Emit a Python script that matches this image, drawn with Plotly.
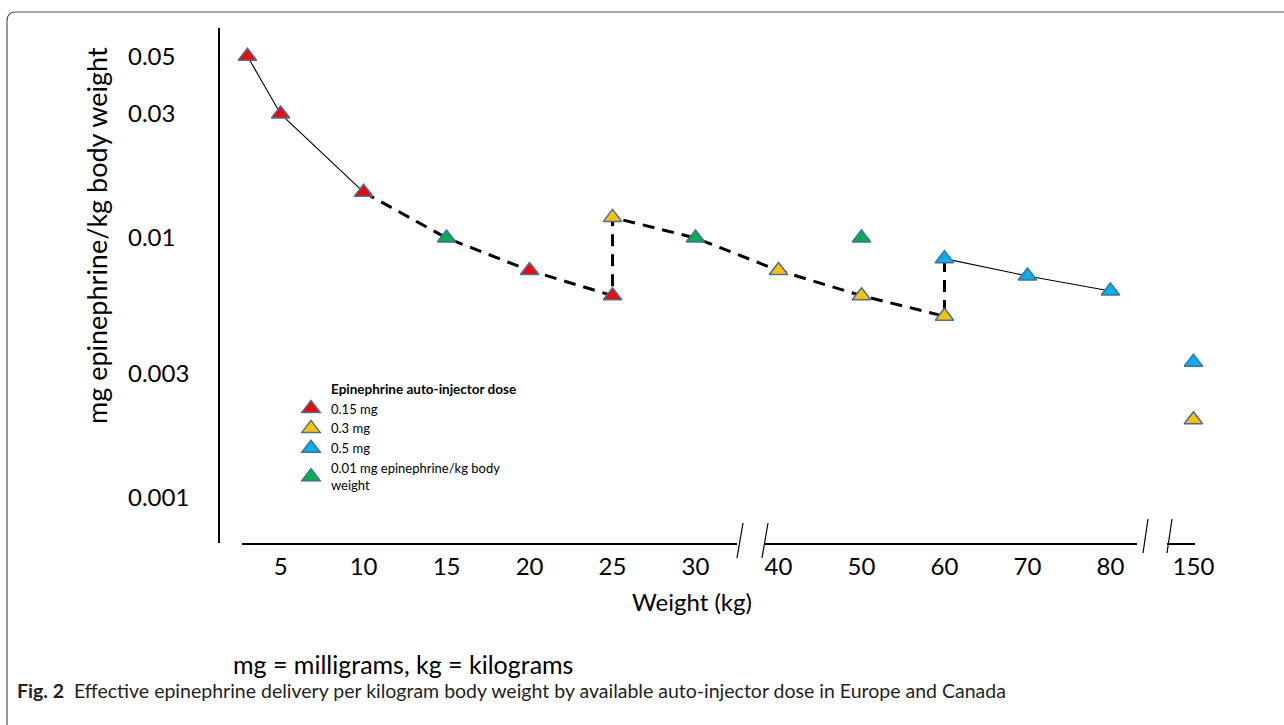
import math
import plotly.graph_objects as go

# ---------------- data ----------------
W_015 = [3, 5, 10, 20, 25]                      # 0.15 mg auto-injector
V_015 = [0.05, 0.03, 0.015, 0.0075, 0.006]
W_03 = [25, 40, 50, 60, 150]                    # 0.3 mg auto-injector
V_03 = [0.012, 0.0075, 0.006, 0.005, 0.002]
W_05 = [60, 70, 80, 150]                        # 0.5 mg auto-injector
V_05 = [0.00833, 0.00714, 0.00625, 0.00333]
W_REF = [15, 30, 50]                            # 0.01 mg/kg reference dose
V_REF = [0.01, 0.01, 0.01]
REF_LEVEL = 0.01

X_TICKS = [5, 10, 15, 20, 25, 30, 40, 50, 60, 70, 80, 150]
Y_TICKS = [0.05, 0.03, 0.01, 0.003, 0.001]
Y_TICK_TEXT = ["0.05", "0.03", "0.01", "0.003", "0.001"]
SERIES_NAMES = ["0.15 mg", "0.3 mg", "0.5 mg",
                "0.01 mg epinephrine/kg body<br>weight"]
LEGEND_TITLE = "Epinephrine auto-injector dose"
Y_TITLE = "mg epinephrine/kg body weight"
X_TITLE = "Weight (kg)"
NOTE = "mg = milligrams, kg = kilograms"
CAPTION = ("<b>Fig. 2</b>  Effective epinephrine delivery per kilogram body weight "
           "by available auto-injector dose in Europe and Canada")

# ---------------- styles ----------------
COLORS = ["#FF0000", "#FFC000", "#00B0F0", "#00B050"]
OUTLINE = "#41719C"
FONT = "Lato"

# figure geometry (pixels)
W, H = 1284, 725
ML, MR, MT, MB = 110, 50, 28, 180
PW, PH = W - ML - MR, H - MT - MB


def px_x(p):  # pixel -> paper x
    return (p - ML) / PW


def px_y(p):  # pixel -> paper y
    return (H - MB - p) / PH


# broken weight axis: 5 kg per tick up to 30, 10 kg per tick to 80, then break to 150
def xpos(w):
    if w <= 30:
        return w / 5
    if w <= 80:
        return 3 + w / 10
    return 12 + (w - 150) / 10


series = [(W_015, V_015), (W_03, V_03), (W_05, V_05), (W_REF, V_REF)]

# connecting paths built from the series points
solid_a = [(W_015[i], V_015[i]) for i in range(3)]
dashed = [(W_015[2], V_015[2]), (W_REF[0], V_REF[0]), (W_015[3], V_015[3]),
          (W_015[4], V_015[4]), (W_03[0], V_03[0]), (W_REF[1], V_REF[1]),
          (W_03[1], V_03[1]), (W_03[2], V_03[2]), (W_03[3], V_03[3]),
          (W_05[0], V_05[0])]
solid_b = [(W_05[i], V_05[i]) for i in range(3)]

fig = go.Figure()

for path, dash, width in [(solid_a, "solid", 1.1), (dashed, "12px,8px", 3),
                          (solid_b, "solid", 1.1)]:
    fig.add_trace(go.Scatter(
        x=[xpos(w) for w, _ in path], y=[v for _, v in path],
        mode="lines", line=dict(color="black", width=width, dash=dash),
        showlegend=False, hoverinfo="skip"))

for (ws, vs), name, col in zip(series, SERIES_NAMES, COLORS):
    fig.add_trace(go.Scatter(
        x=[xpos(w) for w in ws], y=vs, mode="markers", name=name,
        marker=dict(symbol="triangle-up", size=16, color=col,
                    line=dict(color=OUTLINE, width=1.5)),
        cliponaxis=False))

shapes = []
# outer rounded frame
fx0, fy0, r = 7, 12, 9
shapes.append(dict(
    type="path", xref="paper", yref="paper",
    path=(f"M {px_x(1300)},{px_y(fy0)} L {px_x(fx0 + r)},{px_y(fy0)} "
          f"Q {px_x(fx0)},{px_y(fy0)} {px_x(fx0)},{px_y(fy0 + r)} "
          f"L {px_x(fx0)},{px_y(740)}"),
    line=dict(color="#555555", width=1.2)))
# vertical axis line
shapes.append(dict(type="line", xref="paper", yref="paper",
                   x0=px_x(219), x1=px_x(219), y0=px_y(28), y1=px_y(543),
                   line=dict(color="black", width=2)))
# broken horizontal axis segments
for a, b in [(242, 737), (765, 1137), (1167, 1195)]:
    shapes.append(dict(type="line", xref="paper", yref="paper",
                       x0=px_x(a), x1=px_x(b), y0=px_y(544), y1=px_y(544),
                       line=dict(color="black", width=2)))
# break marks
for xb, xt, yb, yt in [(737, 743, 558, 523), (762, 768, 558, 523),
                       (1143, 1148, 553, 519), (1167, 1172, 553, 519)]:
    shapes.append(dict(type="line", xref="paper", yref="paper",
                       x0=px_x(xb), x1=px_x(xt), y0=px_y(yb), y1=px_y(yt),
                       line=dict(color="black", width=1.2)))
# 0.01 mg/kg reference line
shapes.append(dict(type="line", xref="paper", yref="y", layer="below",
                   x0=px_x(225), x1=px_x(1178),
                   y0=math.log10(REF_LEVEL), y1=math.log10(REF_LEVEL),
                   line=dict(color="#444444", width=1.5)))

annotations = [
    dict(text=Y_TITLE, textangle=-90, xref="paper", yref="paper",
         x=px_x(96), y=px_y(236), xanchor="center", yanchor="middle",
         showarrow=False, font=dict(family=FONT, size=27, color="black")),
    dict(text=X_TITLE, xref="paper", yref="paper",
         x=px_x(692), y=px_y(601), xanchor="center", yanchor="middle",
         showarrow=False, font=dict(family=FONT, size=24, color="black")),
    dict(text=NOTE, xref="paper", yref="paper",
         x=px_x(231), y=px_y(664), xanchor="left", yanchor="middle",
         showarrow=False, font=dict(family=FONT, size=25, color="black")),
    dict(text=CAPTION, xref="paper", yref="paper",
         x=px_x(15), y=px_y(690), xanchor="left", yanchor="middle",
         showarrow=False, font=dict(family=FONT, size=19.5, color="#231f20")),
]

fig.update_layout(
    width=W, height=H,
    margin=dict(l=ML, r=MR, t=MT, b=MB, autoexpand=False),
    paper_bgcolor="white", plot_bgcolor="white",
    font=dict(family=FONT, color="black"),
    xaxis=dict(range=[-1.056, 12.489],
               tickvals=[xpos(t) for t in X_TICKS],
               ticktext=[str(t) for t in X_TICKS],
               showgrid=False, zeroline=False, showline=False, ticks="",
               ticklabelstandoff=5,
               tickfont=dict(family=FONT, size=24, color="black")),
    yaxis=dict(type="log", range=[-3.1808, -1.1923],
               tickvals=Y_TICKS, ticktext=Y_TICK_TEXT,
               side="right", anchor="free", position=px_x(127),
               showgrid=False, zeroline=False, showline=False, ticks="",
               automargin=False,
               tickfont=dict(family=FONT, size=24, color="black")),
    legend=dict(x=px_x(291), y=px_y(376), xanchor="left", yanchor="top",
                bgcolor="rgba(0,0,0,0)", borderwidth=0,
                font=dict(family=FONT, size=13, color="black"),
                title=dict(text="\u00a0" * 11 + "<b>" + LEGEND_TITLE + "</b>",
                           font=dict(family=FONT, size=13.5, color="black")),
                tracegroupgap=0, itemwidth=30),
    shapes=shapes,
    annotations=annotations,
    showlegend=True,
)

fig.write_html("out.html", config={"displayModeBar": False},
               post_script="document.body.style.margin='0';")
